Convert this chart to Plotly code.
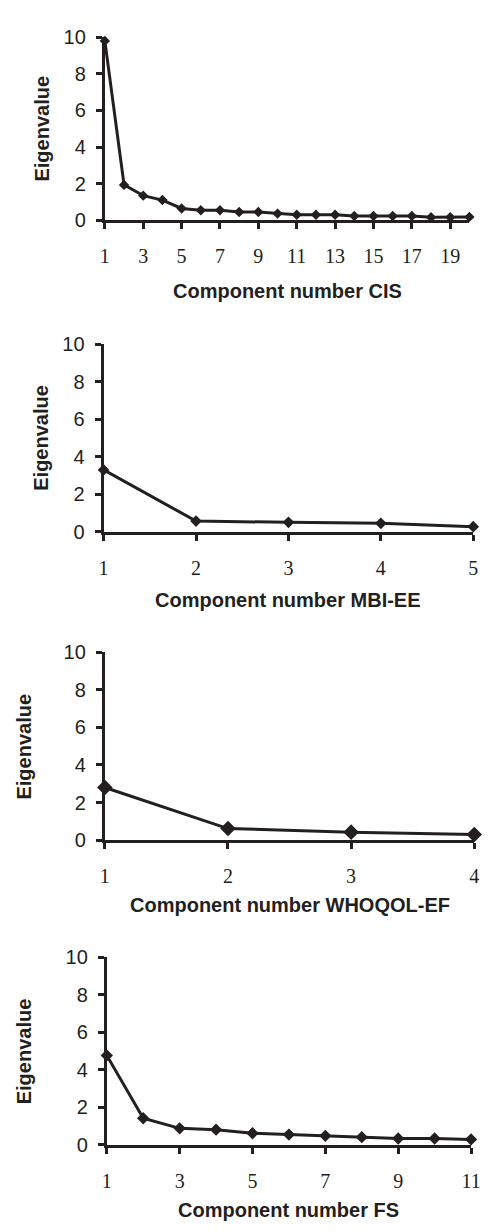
import plotly.graph_objects as go

# ---- data ----
cis_x = list(range(1, 21))
cis_y = [9.8, 1.93, 1.34, 1.1, 0.64, 0.54, 0.54, 0.45, 0.45, 0.36,
         0.3, 0.3, 0.3, 0.23, 0.23, 0.23, 0.23, 0.16, 0.16, 0.18]
mbi_x = [1, 2, 3, 4, 5]
mbi_y = [3.29, 0.56, 0.49, 0.44, 0.26]
who_x = [1, 2, 3, 4]
who_y = [2.8, 0.62, 0.43, 0.3]
fs_x = list(range(1, 12))
fs_y = [4.76, 1.41, 0.87, 0.8, 0.61, 0.54, 0.47, 0.4, 0.33, 0.33, 0.28]

titles = ["Component number CIS", "Component number MBI-EE",
          "Component number WHOQOL-EF", "Component number FS"]
y_title = "Eigenvalue"
y_ticks = [0, 2, 4, 6, 8, 10]

W, H = 492, 1232
INK = "#231f20"

# pixel boxes of each plot area: (left, right, top, bottom)
boxes = [
    (103, 479, 26.7, 213),
    (101.7, 483, 339.3, 530),
    (103, 484, 652.7, 844.3),
    (105, 480.7, 963.3, 1154.3),
]
series = [(cis_x, cis_y, 2, 8), (mbi_x, mbi_y, 1, 9),
          (who_x, who_y, 1, 12), (fs_x, fs_y, 2, 9.5)]
ytitle_x = [38, 37, 20, 20]
xtitle_y = [285, 600, 910, 1221]

fig = go.Figure()
for i, ((l, r, t, b), (xs, ys, dt, ms)) in enumerate(zip(boxes, series)):
    n = i + 1
    xa = "x" if n == 1 else f"x{n}"
    ya = "y" if n == 1 else f"y{n}"
    fig.add_trace(go.Scatter(
        x=xs, y=ys, mode="lines+markers", xaxis=xa, yaxis=ya,
        line=dict(color=INK, width=3),
        marker=dict(symbol="diamond", size=ms, color=INK),
        cliponaxis=False, showlegend=False, hoverinfo="x+y"))
    xkey = "xaxis" if n == 1 else f"xaxis{n}"
    ykey = "yaxis" if n == 1 else f"yaxis{n}"
    fig.layout[xkey] = dict(
        domain=[l / W, r / W], anchor=ya, range=[1, max(xs)],
        tickmode="linear", tick0=1, dtick=dt,
        showgrid=False, zeroline=False, showline=True,
        linecolor=INK, linewidth=3, ticks="outside", ticklen=6,
        tickwidth=3, tickcolor=INK, ticklabelstandoff=10,
        tickfont=dict(family="Liberation Serif", size=20, color=INK),
        fixedrange=True)
    fig.layout[ykey] = dict(
        domain=[1 - b / H, 1 - t / H], anchor=xa, range=[0, 10],
        tickvals=y_ticks, showgrid=False, zeroline=False, showline=True,
        linecolor=INK, linewidth=3, ticks="outside", ticklen=6,
        tickwidth=3, tickcolor=INK, ticklabelstandoff=6,
        tickfont=dict(family="Liberation Sans", size=20, color=INK),
        fixedrange=True)
    fig.add_annotation(
        text=f"<b>{titles[i]}</b>", xref="paper", yref="paper",
        x=(l + r) / 2 / W, y=1 - xtitle_y[i] / H, showarrow=False,
        xanchor="center", yanchor="middle",
        font=dict(family="Liberation Sans", size=20, color=INK))
    fig.add_annotation(
        text=f"<b>{y_title}</b>", xref="paper", yref="paper",
        x=ytitle_x[i] / W, y=1 - (t + b) / 2 / H, showarrow=False,
        textangle=-90, xanchor="center", yanchor="middle",
        font=dict(family="Liberation Sans", size=20, color=INK))

fig.update_layout(
    width=W, height=H, margin=dict(l=0, r=0, t=0, b=0),
    paper_bgcolor="white", plot_bgcolor="white")

fig.write_html(
    "out.html",
    config={"displayModeBar": False},
    post_script="document.body.style.margin='0';"
                "document.body.style.overflow='hidden';")
